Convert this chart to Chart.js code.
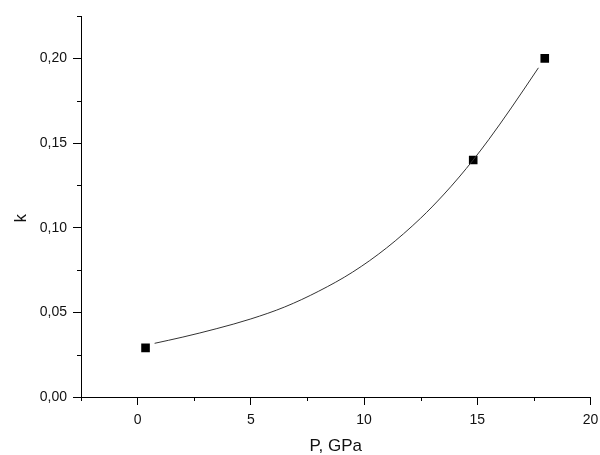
<!DOCTYPE html>
<html lang="en">
<head>
    <meta charset="UTF-8">
    <title>k vs P</title>
    <script src="https://cdn.jsdelivr.net/npm/chart.js"></script>
    <style>
        html, body { margin: 0; padding: 0; background: #fff; }
        #wrap { width: 600px; height: 455px; }
    </style>
</head>
<body>
    <div id="wrap"><canvas id="kChart" width="600" height="455"></canvas></div>

    <script>
        // measured points
        const pressure = [0.35, 14.82, 17.98];
        const kValues = [0.029, 0.14, 0.2];

        // spline curve through the points
        const curveP = [0.75, 2, 3.5, 5, 6.5, 8, 9.5, 11, 12.5, 13.5, 14.2, 14.82, 15.5, 16.5, 17.7];
        const curveK = [0.0317, 0.0354, 0.0404, 0.0461, 0.0532, 0.0625, 0.0738, 0.0881, 0.1056, 0.1193, 0.1299, 0.1400, 0.1519, 0.1707, 0.1944];

        // axis ticks
        const xMajor = [0, 5, 10, 15, 20];
        const xMinor = [-2.5, 2.5, 7.5, 12.5, 17.5];
        const yMajor = [0, 0.05, 0.10, 0.15, 0.20];
        const yMinor = [0.025, 0.075, 0.125, 0.175, 0.225];

        const textColor = '#111';
        const fontFamily = "'Liberation Sans', Arial, sans-serif";

        // no label overflow padding, so the plot area keeps its size
        const noPad = () => ({ left: 0, right: 0, top: 0, bottom: 0 });

        // draws the short minor ticks along both axes
        const minorTicks = {
            id: 'minorTicks',
            afterDraw(chart) {
                const ctx = chart.ctx;
                const xs = chart.scales.x, ys = chart.scales.y;
                ctx.save();
                ctx.strokeStyle = '#000';
                ctx.lineWidth = 1;
                ctx.beginPath();
                xMinor.forEach(v => {
                    const px = Math.round(xs.getPixelForValue(v)) + 0.5;
                    ctx.moveTo(px, ys.bottom);
                    ctx.lineTo(px, ys.bottom + 4);
                });
                yMinor.forEach(v => {
                    const py = Math.round(ys.getPixelForValue(v)) + 0.5;
                    ctx.moveTo(xs.left, py);
                    ctx.lineTo(xs.left - 4, py);
                });
                ctx.stroke();
                ctx.restore();
            }
        };

        const ctx = document.getElementById('kChart').getContext('2d');
        new Chart(ctx, {
            type: 'scatter',
            data: {
                datasets: [{
                    label: 'fit',
                    data: curveP.map((p, i) => ({ x: p, y: curveK[i] })),
                    showLine: true,
                    borderColor: '#333',
                    borderWidth: 1,
                    pointRadius: 0,
                    cubicInterpolationMode: 'monotone',
                    fill: false
                }, {
                    label: 'k',
                    data: pressure.map((p, i) => ({ x: p, y: kValues[i] })),
                    showLine: false,
                    pointStyle: 'rect',
                    pointRadius: 7.5,
                    pointBackgroundColor: '#000',
                    pointBorderColor: '#fff',
                    pointBorderWidth: 2
                }]
            },
            options: {
                responsive: false,
                animation: false,
                layout: { padding: { top: 16, right: 7, left: 0, bottom: 0 } },
                plugins: {
                    legend: { display: false },
                    tooltip: { enabled: false }
                },
                scales: {
                    x: {
                        type: 'linear',
                        min: -2.5,
                        max: 20,
                        afterBuildTicks: s => { s.ticks = xMajor.map(v => ({ value: v })); },
                        afterFit: s => { s.height = 58; s.paddingRight = 0; s.paddingLeft = 0; s.getPadding = noPad; },
                        border: { display: true, color: '#000', width: 1 },
                        grid: { display: true, drawOnChartArea: false, drawTicks: true, tickLength: 8, tickColor: '#000' },
                        ticks: {
                            color: textColor,
                            padding: 7,
                            maxRotation: 0,
                            font: { family: fontFamily, size: 14 },
                            callback: v => String(v)
                        },
                        title: {
                            display: true,
                            text: 'P, GPa',
                            color: textColor,
                            padding: { top: 0, bottom: 0 },
                            font: { family: fontFamily, size: 17, lineHeight: 1 }
                        }
                    },
                    y: {
                        type: 'linear',
                        min: 0,
                        max: 0.225,
                        afterBuildTicks: s => { s.ticks = yMajor.map(v => ({ value: v })); },
                        afterFit: s => { s.width = 81; s.getPadding = noPad; },
                        border: { display: true, color: '#000', width: 1 },
                        grid: { display: true, drawOnChartArea: false, drawTicks: true, tickLength: 8, tickColor: '#000' },
                        ticks: {
                            color: textColor,
                            padding: 6,
                            font: { family: fontFamily, size: 14 },
                            callback: v => v.toFixed(2).replace('.', ',')
                        },
                        title: {
                            display: true,
                            text: 'k' + '\u00a0'.repeat(5),
                            color: textColor,
                            padding: { top: 11, bottom: 0 },
                            font: { family: fontFamily, size: 17 }
                        }
                    }
                }
            },
            plugins: [minorTicks]
        });
    </script>
</body>
</html>
